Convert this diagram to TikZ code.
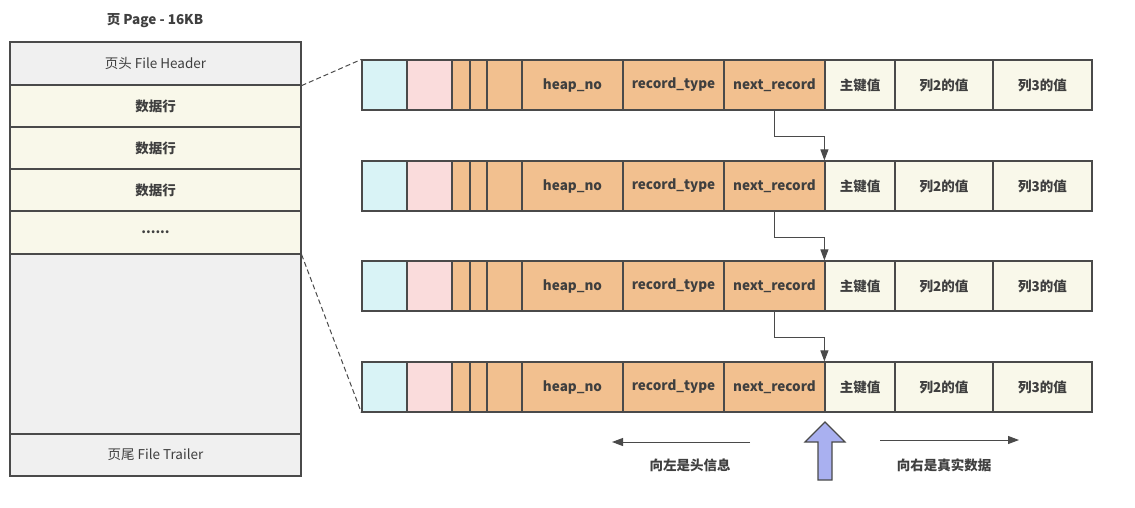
\documentclass[tikz,border=0pt]{standalone}
\usepackage{fontspec}
\setmainfont{Noto Sans CJK SC}
\usetikzlibrary{positioning,arrows.meta}
\definecolor{linec}{HTML}{4A4A4A}
\definecolor{textc}{HTML}{3F3F3F}
\definecolor{cyanc}{HTML}{D9F3F6}
\definecolor{pinkc}{HTML}{FADCDC}
\definecolor{orangec}{HTML}{F2C08F}
\definecolor{creamc}{HTML}{F9F8EA}
\definecolor{grayc}{HTML}{F0F0F0}
\definecolor{upc}{HTML}{A9B0F0}

\begin{document}
\begin{tikzpicture}[x=1pt,y=-1pt,>={Triangle[length=11pt,width=8pt]},
   font=\fontsize{13.5}{15}\selectfont,
   boldtext/.style={text=textc,font=\fontsize{13.5}{15}\selectfont\bfseries},
   cell/.style={draw=linec,line width=1.2pt,inner sep=0pt,minimum height=50pt,boldtext},
   pagebox/.style={draw=linec,line width=1.2pt,inner sep=0pt,minimum width=291pt,text=textc},
   link/.style={->,draw=linec,line width=1pt},
   zoomline/.style={draw=linec,line width=1pt,dash pattern=on 5pt off 3pt}]
  \useasboundingbox (0,0) rectangle (1135,507);

  % page on the left
  \node[boldtext] (title) at (155,21) {页 Page - 16KB};
  \node[pagebox,fill=grayc,minimum height=43pt] (hdr) at (155.5,63.5) {页头 File Header};
  \node[pagebox,fill=creamc,minimum height=42pt,boldtext] (row1) at (155.5,106) {数据行};
  \node[pagebox,fill=creamc,minimum height=42pt,boldtext] (row2) at (155.5,148) {数据行};
  \node[pagebox,fill=creamc,minimum height=42pt,boldtext] (row3) at (155.5,190) {数据行};
  \node[pagebox,fill=creamc,minimum height=43pt,boldtext] (dots) at (155.5,232.5) {......};
  \node[pagebox,fill=grayc,minimum height=180pt] (free) at (155.5,344) {};
  \node[pagebox,fill=grayc,minimum height=42pt] (trl) at (155.5,455) {页尾 File Trailer};

  % records
  \foreach \r/\y in {1/85,2/186,3/286,4/387}{
    \foreach \n/\cx/\w/\col/\t in {a/384.5/45/cyanc/{},b/429.5/45/pinkc/{},
        c/461/18/orangec/{},d/478.5/17/orangec/{},e/504.5/35/orangec/{},
        heap/572.5/101/orangec/heap\_no,type/673.5/101/orangec/record\_type,
        next/774.5/101/orangec/next\_record,pk/860/70/creamc/主键值,
        ctwo/944/98/creamc/列2的值,cthree/1042.5/99/creamc/列3的值}
      \node[cell,fill=\col,minimum width=\w pt] (r\r-\n) at (\cx,\y) {\t};
  }

  \draw[link] (r1-next.south) -- ++(0,26) -| (r2-pk.north west);
  \draw[link] (r2-next.south) -- ++(0,26) -| (r3-pk.north west);
  \draw[link] (r3-next.south) -- ++(0,26) -| (r4-pk.north west);

  \draw[zoomline] (hdr.south east) -- (r1-a.north west);
  \draw[zoomline] (dots.south east) -- (r4-a.south west);

  % bottom hints
  \coordinate (lfrom) at (750,442);
  \coordinate (lto) at (612,442);
  \coordinate (rfrom) at (880,440);
  \coordinate (rto) at (1019,440);
  \draw[link] (lfrom) -- (lto);
  \draw[link] (rfrom) -- (rto);
  \node[boldtext] (lhint) at (690,465) {向左是头信息};
  \node[boldtext] (rhint) at (944,465) {向右是真实数据};
  \draw[draw=linec,fill=upc,line width=1.2pt,line join=miter]
    (825,422) -- (845,442) -- (832,442) -- (832,480) -- (818,480) -- (818,442) -- (805,442) -- cycle;
\end{tikzpicture}
\end{document}
